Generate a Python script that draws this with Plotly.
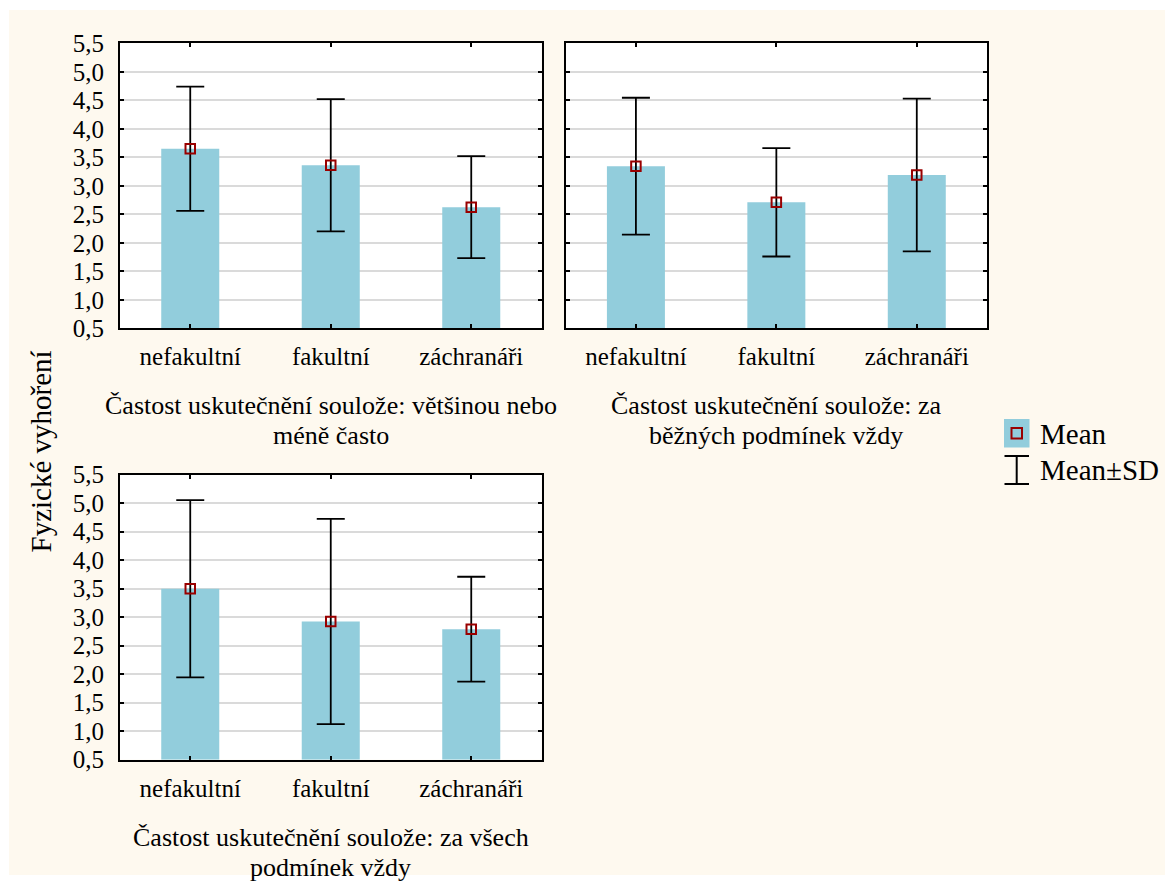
import plotly.graph_objects as go

# The page body has an 8px margin, so the figure is sized to fit the window.
OFF = 8
W, H = 1173 - OFF, 884 - OFF

categories = ["nefakultní", "fakultní", "záchranáři"]

means_1 = [3.65, 3.36, 2.625]
sd_1 = [1.09, 1.16, 0.895]
means_2 = [3.345, 2.71, 3.19]
sd_2 = [1.20, 0.95, 1.34]
means_3 = [3.50, 2.925, 2.79]
sd_3 = [1.555, 1.80, 0.92]

panel_titles = [
    ["Častost uskutečnění soulože: většinou nebo", "méně často"],
    ["Častost uskutečnění soulože: za", "běžných podmínek vždy"],
    ["Častost uskutečnění soulože: za všech", "podmínek vždy"],
]

y_tick_vals = [0.5, 1.0, 1.5, 2.0, 2.5, 3.0, 3.5, 4.0, 4.5, 5.0, 5.5]
y_tick_text = ["0,5", "1,0", "1,5", "2,0", "2,5", "3,0", "3,5", "4,0", "4,5", "5,0", "5,5"]

y_title = "Fyzické vyhoření"
legend_labels = ["Mean", "Mean±SD"]

BAR_COLOR = "#92CDDC"
MARK_COLOR = "#990000"
CREAM = "#FEF9EF"
FONT = "Liberation Serif, Times New Roman, serif"


def px(x):
    return (x - OFF) / W


def py(y):
    return 1 - (y - OFF) / H


# panel boxes in screen pixels: left, right, top, bottom
boxes = [
    (120, 541.5, 43.3, 328.3),
    (565.7, 987, 43.3, 328.3),
    (120, 541.5, 474.7, 759.7),
]

fig = go.Figure()
data = [(means_1, sd_1), (means_2, sd_2), (means_3, sd_3)]
for i, (m, s) in enumerate(data):
    sfx = "" if i == 0 else str(i + 1)
    fig.add_trace(go.Bar(
        x=categories, y=[v - 0.5 for v in m], base=0.5, width=0.413,
        marker=dict(color=BAR_COLOR, line=dict(width=0)),
        xaxis="x" + sfx, yaxis="y" + sfx, showlegend=False, hoverinfo="skip",
    ))
    fig.add_trace(go.Scatter(
        x=categories, y=m, mode="markers",
        marker=dict(symbol="square-open", size=9.5, color=MARK_COLOR,
                    line=dict(width=2, color=MARK_COLOR)),
        error_y=dict(type="data", array=s, visible=True, color="black",
                     thickness=1.8, width=14),
        xaxis="x" + sfx, yaxis="y" + sfx, showlegend=False,
    ))

axis_common = dict(
    showline=True, linecolor="black", linewidth=2, mirror="allticks",
    ticks="inside", ticklen=4, tickwidth=2, tickcolor="black",
    tickfont=dict(family=FONT, size=25, color="black"),
    automargin=False,
)

layout = dict(
    width=W, height=H,
    margin=dict(l=0, r=0, t=0, b=0, pad=0, autoexpand=False),
    paper_bgcolor="white", plot_bgcolor="white",
    showlegend=False,
    font=dict(family=FONT, color="black"),
)

for i, (l, r, t, b) in enumerate(boxes):
    sfx = "" if i == 0 else str(i + 1)
    layout["xaxis" + sfx] = dict(
        axis_common, domain=[px(l), px(r)], range=[-0.5, 2.5],
        anchor="y" + sfx, showgrid=False, ticklabelstandoff=5,
        type="category",
    )
    layout["yaxis" + sfx] = dict(
        axis_common, domain=[py(b), py(t)], range=[0.5, 5.5],
        anchor="x" + sfx, tickvals=y_tick_vals, ticktext=y_tick_text,
        showgrid=True, gridcolor="#dadada", gridwidth=1.6,
        zeroline=False, ticklabelstandoff=9,
        showticklabels=(i != 1),
    )

fig.update_layout(**layout)

shapes = [
    # cream background area
    dict(type="rect", xref="paper", yref="paper", x0=px(9), x1=px(1173),
         y0=py(875), y1=py(10), fillcolor=CREAM, line=dict(width=0),
         layer="below"),
    # legend: mean swatch
    dict(type="rect", xref="paper", yref="paper", x0=px(1004), x1=px(1029.5),
         y0=py(447.5), y1=py(419), fillcolor=BAR_COLOR, line=dict(width=0)),
    dict(type="rect", xref="paper", yref="paper", x0=px(1011.5), x1=px(1022),
         y0=py(438.5), y1=py(428), fillcolor="rgba(0,0,0,0)",
         line=dict(width=2, color=MARK_COLOR)),
    # legend: SD whisker glyph
    dict(type="line", xref="paper", yref="paper", x0=px(1016.7), x1=px(1016.7),
         y0=py(456), y1=py(484), line=dict(width=2, color="black")),
    dict(type="line", xref="paper", yref="paper", x0=px(1004.5), x1=px(1029),
         y0=py(456), y1=py(456), line=dict(width=2, color="black")),
    dict(type="line", xref="paper", yref="paper", x0=px(1004.5), x1=px(1029),
         y0=py(484), y1=py(484), line=dict(width=2, color="black")),
]
# white plot areas above the cream background
for i in range(3):
    sfx = "" if i == 0 else str(i + 1)
    shapes.append(dict(type="rect", xref="x" + sfx + " domain",
                       yref="y" + sfx + " domain", x0=0, x1=1, y0=0, y1=1,
                       fillcolor="white", line=dict(width=0), layer="below"))
fig.update_layout(shapes=shapes)

annotations = []
title_rows = [(405, 435), (405, 435), (837, 867)]
for i, (l, r, t, b) in enumerate(boxes):
    cx = (l + r) / 2
    for line_text, yy in zip(panel_titles[i], title_rows[i]):
        annotations.append(dict(
            text=line_text, x=px(cx), y=py(yy), xref="paper", yref="paper",
            xanchor="center", yanchor="middle", showarrow=False,
            font=dict(family=FONT, size=26, color="black"),
        ))

annotations.append(dict(
    text=y_title, x=px(40), y=py(451.5), xref="paper", yref="paper",
    xanchor="center", yanchor="middle", showarrow=False, textangle=-90,
    font=dict(family=FONT, size=29, color="black"),
))
for lab, yy in zip(legend_labels, (433.5, 470)):
    annotations.append(dict(
        text=lab, x=px(1038), y=py(yy), xref="paper", yref="paper",
        xanchor="left", yanchor="middle", showarrow=False,
        font=dict(family=FONT, size=29, color="black"),
    ))
fig.update_layout(annotations=annotations)

fig.write_html("out.html")
